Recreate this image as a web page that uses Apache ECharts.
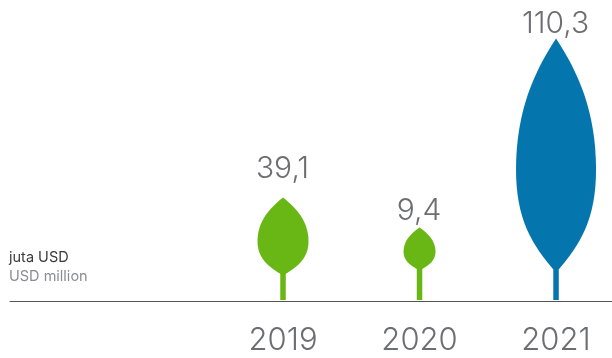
<!DOCTYPE html>
<html>
<head>
<meta charset="utf-8">
<style>html,body{margin:0;padding:0;background:#fff}#chart{width:612px;height:358px}</style>
<script src="https://cdn.jsdelivr.net/npm/echarts@6/dist/echarts.min.js"></script>
</head>
<body>
<div id="chart"></div>
<script>
// Yearly figures, in million USD
const years = [2019, 2020, 2021];
const values = [39.1, 9.4, 110.3];
const leafColors = ['#69b715', '#69b715', '#0575ae'];
const unitLabels = ['juta USD', 'USD million'];

const TEXT_GREY = '#6d6e71';
const FONT = 'Inter';
const STEM_WIDTH = 5.5;

// The glyph is not linear in the value: each measure is a quadratic of it.
const quad = (a, b, c) => v => a + b * v + c * v * v;
const tipHeight = quad(68.96, 0.42223, 0.012121);
const leafWidth = quad(25.14, 0.75145, -0.0023036);
const leafBase = quad(33.349, -0.26952, 0.002086);
const labelGap = quad(1.014, 0.69277, -0.005953);

function renderLeaf(params, api) {
  const year = api.value(0);
  const v = api.value(1);
  const [x, y0] = api.coord([year, 0]);
  const top = y0 - tipHeight(v);
  const bottom = y0 - leafBase(v);
  const h = bottom - top;
  const w = leafWidth(v);
  const fill = leafColors[params.dataIndex];
  const at = (fx, fy) => (x + fx * w).toFixed(2) + ' ' + (top + fy * h).toFixed(2);
  const d =
    'M' + at(0, 0) +
    'C' + at(0.27, 0.14) + ' ' + at(0.5, 0.31) + ' ' + at(0.5, 0.56) +
    'C' + at(0.5, 0.77) + ' ' + at(0.31, 0.88) + ' ' + at(0, 1) +
    'C' + at(-0.31, 0.88) + ' ' + at(-0.5, 0.77) + ' ' + at(-0.5, 0.56) +
    'C' + at(-0.5, 0.31) + ' ' + at(-0.27, 0.14) + ' ' + at(0, 0) + 'Z';
  return {
    type: 'group',
    children: [
      {
        type: 'rect',
        shape: { x: x - STEM_WIDTH / 2, y: bottom - 3, width: STEM_WIDTH, height: y0 - 1.5 - bottom + 3 },
        style: { fill }
      },
      {
        type: 'path',
        shape: { pathData: d, layout: 'cover', x: x - w / 2, y: top, width: w, height: h },
        style: { fill }
      },
      {
        type: 'text',
        style: {
          x: x - 0.5,
          y: top - labelGap(v) + 5,
          text: String(v).replace('.', ','),
          fill: TEXT_GREY,
          font: '300 30px ' + FONT,
          textAlign: 'center',
          textVerticalAlign: 'bottom'
        }
      }
    ]
  };
}

const chart = echarts.init(document.getElementById('chart'), null, { renderer: 'canvas' });
chart.setOption({
  animation: false,
  backgroundColor: '#fff',
  grid: { left: 10, right: 0, top: 0, bottom: 56.5 },
  xAxis: {
    type: 'value',
    min: 2017,
    max: 2021.41,
    interval: 1,
    splitLine: { show: false },
    axisTick: { show: false },
    axisLine: { show: true, onZero: false, lineStyle: { color: '#555658', width: 1 } },
    axisLabel: {
      margin: 24,
      color: TEXT_GREY,
      fontFamily: FONT,
      fontWeight: 300,
      fontSize: 31,
      showMaxLabel: false,
      formatter: v => (years.includes(v) ? String(v) : '')
    }
  },
  yAxis: { type: 'value', min: 0, max: 120, show: false },
  series: [{
    type: 'custom',
    coordinateSystem: 'cartesian2d',
    clip: false,
    encode: { x: 0, y: 1 },
    data: years.map((y, i) => [y, values[i]]),
    renderItem: renderLeaf
  }],
  graphic: [
    { type: 'text', left: 9, top: 250, style: { text: unitLabels[0], fill: '#3a3a3c', font: '14.5px ' + FONT } },
    { type: 'text', left: 9, top: 269, style: { text: unitLabels[1], fill: '#8c8d90', font: '14.5px ' + FONT } }
  ]
});
</script>
</body>
</html>
